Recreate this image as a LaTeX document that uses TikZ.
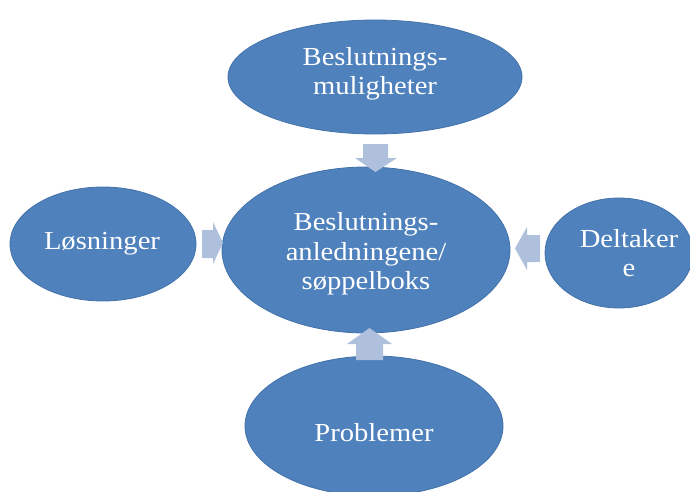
\documentclass[tikz,border=0pt]{standalone}
\usepackage{fontspec}
\setmainfont[FakeStretch=1.1]{Liberation Serif}
\usetikzlibrary{shapes.geometric}
\definecolor{ellfill}{HTML}{4F81BD}
\definecolor{elldraw}{HTML}{4372AA}
\definecolor{arrfill}{HTML}{AFC0DD}
\tikzset{
  ell/.style={ellipse, fill=ellfill, draw=elldraw, line width=0.8pt, inner sep=0pt},
  lbl/.style={text=white, align=center, font=\fontsize{26}{29.5}\selectfont, inner sep=0pt},
  blockarrow/.style={fill=arrfill, draw=none}
}
\begin{document}
\begin{tikzpicture}[x=1pt,y=-1pt]
\useasboundingbox (0,0) rectangle (690,492);
\clip (0,0) rectangle (690,492);
% ellipses
\node[ell, minimum width=294pt, minimum height=114pt] (top) at (375,77) {};
\node[ell, minimum width=288pt, minimum height=166pt] (mid) at (366,250) {};
\node[ell, minimum width=186pt, minimum height=114pt] (left) at (103,244) {};
\node[ell, minimum width=148pt, minimum height=110pt] (right) at (619,253) {};
\node[ell, minimum width=258pt, minimum height=140pt] (bot) at (374,426) {};
% labels
\node[lbl] (toplbl) at (375,74) {Beslutnings-\\muligheter};
\node[lbl] (midlbl) at (366,254) {Beslutnings-\\anledningene/\\søppelboks};
\node[lbl] (leftlbl) at (102,244) {Løsninger};
\node[lbl] (rightlbl) at (629,253) {Deltaker\\e};
\node[lbl] (botlbl) at (374,433) {Problemer};
% block arrows
\fill[blockarrow] (363,144) -- (388,144) -- (388,158) -- (397,158) -- (375.5,172) -- (355,158) -- (363,158) -- cycle;
\fill[blockarrow] (202,230) -- (213,230) -- (213,222) -- (223,243) -- (213,264) -- (213,258) -- (202,258) -- cycle;
\fill[blockarrow] (540,235) -- (527,235) -- (527,227) -- (515,248.5) -- (527,270) -- (527,262) -- (540,262) -- cycle;
\fill[blockarrow] (356,360) -- (356,344) -- (347,344) -- (369.5,328) -- (392,344) -- (383,344) -- (383,360) -- cycle;
\end{tikzpicture}
\end{document}
